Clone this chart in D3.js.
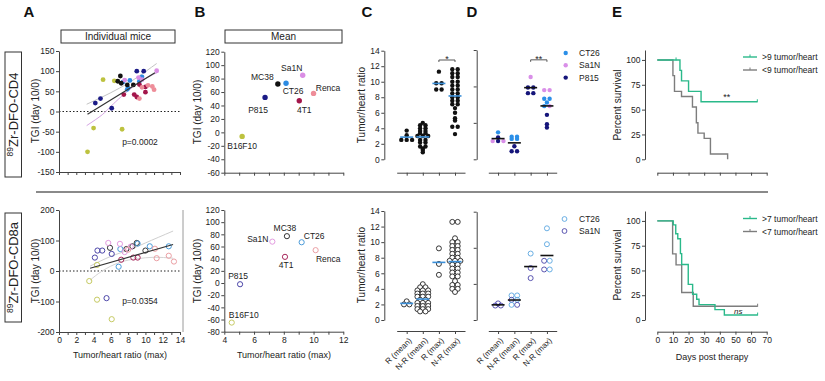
<!DOCTYPE html>
<html>
<head>
<meta charset="utf-8">
<script src="https://cdnjs.cloudflare.com/ajax/libs/d3/7.8.5/d3.min.js"></script>
<style>
  body { margin: 0; background: #fff; }
  svg { font-family: "Liberation Sans", Arial, Helvetica, sans-serif; }
</style>
</head>
<body>
<div id="fig"></div>
<script>
// ---------- data ----------
const models = ["B16F10", "P815", "MC38", "CT26", "Sa1N", "4T1", "Renca"];

// panel A, individual mice: [model, tumor/heart ratio (max), TGI]
const cd4Mice = [
  ["B16F10",3.3,-100],["B16F10",4.0,-41],["B16F10",5.1,79],["B16F10",6.4,76],["B16F10",7.3,-44],
  ["P815",4.2,21],["P815",4.8,32],["P815",6.1,8],["P815",9.0,100],["P815",9.8,100],
  ["CT26",7.4,73],["CT26",8.2,77],["CT26",7.9,55],["CT26",8.0,58],["CT26",9.6,86],["CT26",9.3,75],
  ["Sa1N",7.6,78],["Sa1N",11.3,101],["Sa1N",9.2,84],["Sa1N",9.6,79],
  ["4T1",7.5,42],["4T1",8.7,42],["4T1",9.0,36],["4T1",10.0,61],["4T1",10.0,48],["4T1",9.3,67],
  ["Renca",10.8,62],["Renca",11.0,54],["Renca",10.3,65],["Renca",9.3,32],["Renca",9.6,60],
  ["MC38",7.1,88],["MC38",6.8,75],["MC38",7.2,70],["MC38",7.9,66],["MC38",8.6,66]
];
const cd8Mice = [
  ["B16F10",3.5,-33],["B16F10",4.4,-94],["B16F10",4.4,20],["B16F10",6.1,-158],
  ["P815",5.5,-89],["P815",4.15,44],["P815",4.45,67],["P815",5.0,67],["P815",6.1,56],
  ["MC38",5.9,76],["MC38",7.8,72],["MC38",8.5,81],["MC38",9.0,92],["MC38",10.0,67],
  ["CT26",6.9,14],["CT26",7.1,72],["CT26",9.1,90],["CT26",10.5,81],["CT26",12.7,81],
  ["Sa1N",5.7,92],["Sa1N",7.05,89],["Sa1N",8.3,80],["Sa1N",7.6,62],
  ["4T1",7.2,37],["4T1",8.6,44],["4T1",9.1,44],
  ["Renca",11.3,42],["Renca",12.7,50],["Renca",13.3,31],["Renca",11.1,73],["Renca",8.0,70]
];
// fitted line and the two band curves: [ratio, TGI]
const cd4Fit = [[3.3,-7],[11.1,96]];
const cd4BandUpper = [[3.2,18],[5,36],[7,58],[9,84],[11.3,119]];
const cd4BandLower = [[3.2,-35],[5,-8],[6.3,19],[9,68],[11.5,98]];
const cd8Fit = [[3.6,9],[13.2,87]];
const cd8BandUpper = [[3.6,16],[6,48],[8,68],[10,92],[13.2,131]];
const cd8BandLower = [[3.6,-30],[5,0],[7,28],[9,40],[11,45],[13.2,42]];
const cd4P = "p=0.0002";
const cd8P = "p=0.0354";

// panel B, means: [model, ratio, TGI]
const cd4Means = [["B16F10",5.2,-6],["P815",6.74,52],["MC38",7.6,72],["CT26",8.15,73],
                  ["Sa1N",9.27,85],["4T1",9.04,47],["Renca",10.0,58]];
const cd8Means = [["B16F10",4.5,-65],["P815",5.06,-2],["Sa1N",7.23,68],["MC38",8.21,77],
                  ["CT26",9.2,67],["4T1",8.08,43],["Renca",10.14,54]];

// panels C and D
const ratioGroups = ["R (mean)", "N-R (mean)", "R (max)", "N-R (max)"];
const cd4Ratios = [
  [3.7, 3.1, 2.5, 2.5, 2.5],
  [4.7, 4.4,4.4, 4.0,4.0, 3.65,3.65, 3.35,3.35, 3.0,3.0,3.0, 2.5,2.5, 2.15,2.15, 1.65,1.65, 1.4, 1.2, 0.9],
  [11.3, 9.8, 9.8, 9.0, 9.0],
  [11.6,11.6, 11.1,11.1, 10.6,10.6, 10.0,10.0, 9.5,9.5, 9.0,9.0, 8.5,8.5, 8.0,8.0, 7.55,7.55,
   7.1,7.1, 6.6, 6.0, 5.3, 5.0, 4.2,4.2, 3.25]
];
const cd8Ratios = [
  [2.4, 2.0, 2.0],
  [4.6, 4.2,4.2, 3.8,3.8,3.8, 3.4,3.4,3.4, 3.0,3.0,3.0, 2.6,2.6, 2.2,2.2,2.2, 1.8,1.8,1.8, 1.4,1.4,1.4, 1.1,1.1],
  [9.2, 7.2, 5.8],
  [12.6,12.6, 10.5, 10.0,10.0, 9.5,9.5, 9.0,9.0, 8.5,8.5, 8.0,8.0, 7.6,7.6,7.6, 7.1,7.1, 6.6,6.6,
   6.1,6.1, 5.6,5.6, 5.0, 4.5,4.5, 4.0,4.0, 3.6]
];
// [group index, model, ratio]
const cd4ByModel = [
  [0,"CT26",3.7],[0,"P815",3.0],[0,"Sa1N",2.5],[0,"P815",2.5],[0,"Sa1N",2.5],
  [1,"CT26",3.1],[1,"CT26",3.1],[1,"CT26",2.8],[1,"CT26",2.8],[1,"P815",1.8],[1,"P815",1.1],[1,"P815",1.1],
  [2,"Sa1N",11.3],[2,"P815",9.85],[2,"P815",9.85],[2,"P815",9.08],[2,"P815",9.08],
  [3,"Sa1N",9.5],[3,"Sa1N",9.5],[3,"CT26",8.3],[3,"CT26",8.3],[3,"CT26",7.8],[3,"CT26",7.3],
  [3,"Sa1N",7.3],[3,"P815",6.1],[3,"P815",4.8],[3,"P815",4.35]
];
const cd8ByModel = [
  [0,"Sa1N",2.3],[0,"Sa1N",2.0],[0,"Sa1N",2.0],
  [1,"CT26",3.4],[1,"CT26",3.4],[1,"Sa1N",2.8],[1,"CT26",2.8],[1,"CT26",2.1],[1,"Sa1N",2.1],
  [2,"CT26",9.2],[2,"Sa1N",7.2],[2,"Sa1N",5.8],
  [3,"CT26",12.7],[3,"CT26",10.5],[3,"Sa1N",8.2],[3,"CT26",8.2],[3,"Sa1N",7.0],[3,"CT26",7.0]
];
const dModelsTop = ["CT26", "Sa1N", "P815"];
const dModelsBottom = ["CT26", "Sa1N"];

// panel E, Kaplan-Meier steps: days and percent survival
const cd4HighDays = [0, 14.5, 15.5, 20, 28, 64];
const cd4HighSurv = [100, 89.5, 78.9, 68.4, 57.9, 57.9];
const cd4HighCensor = [12, 64];
const cd4LowDays = [0, 10, 11, 15.5, 22.5, 25, 26, 30, 34, 45];
const cd4LowSurv = [100, 84.2, 68.4, 63.2, 52.6, 36.8, 26.3, 21.1, 5.3, 0];
const cd8HighDays = [0, 10.2, 11.8, 13.1, 14.8, 15.6, 19.8, 22.6, 25.2, 26.7, 36.9, 42.9, 64.2];
const cd8HighSurv = [100, 96, 87, 82, 67, 56, 36, 26, 21, 15.5, 10.5, 5, 5];
const cd8LowDays = [0, 9.8, 12, 15.6, 23, 64.2];
const cd8LowSurv = [100, 66.7, 55.6, 27.8, 13.9, 13.9];
const survivalLegendTop = [">9 tumor/heart", "<9 tumor/heart"];
const survivalLegendBottom = [">7 tumor/heart", "<7 tumor/heart"];

// ---------- styles ----------
const filledColor = d3.scaleOrdinal().domain(models)
  .range(["#bdc23f", "#1b1b86", "#111111", "#2d8be2", "#da8ee4", "#a3164b", "#ee8d99"]);
const openColor = d3.scaleOrdinal().domain(models)
  .range(["#c6ca63", "#4b45a8", "#333333", "#4a9bd9", "#e39ce0", "#a8285c", "#eb9fa4"]);
const dTopColor = d3.scaleOrdinal().domain(dModelsTop).range(["#2b8fe8", "#d98fe8", "#15157a"]);
const dBottomColor = d3.scaleOrdinal().domain(dModelsBottom).range(["#5aa6e0", "#4a44a8"]);
const green = "#2ab98a", grey = "#7d7d7d", axisCol = "#444";

const svg = d3.select("#fig").append("svg").attr("width", 825).attr("height", 381);
svg.append("rect").attr("width", 825).attr("height", 381).attr("fill", "#fff");

function styleAxis(g, fs) {
  g.attr("font-family", null).attr("font-size", null);
  g.select(".domain").attr("stroke", axisCol);
  g.selectAll(".tick line").attr("stroke", axisCol);
  g.selectAll(".tick text").attr("fill", "#222").style("font-size", (fs || 8.5) + "px");
}
function yAxis(x, scale, ticks, labels) {
  const ax = d3.axisLeft(scale).tickValues(ticks).tickSize(3).tickSizeOuter(0).tickPadding(1.5)
    .tickFormat(labels ? d => String(d) : "");
  const g = svg.append("g").attr("transform", `translate(${x},0)`).call(ax);
  styleAxis(g);
  return g;
}
function xAxis(y, scale, ticks, fmt) {
  const ax = d3.axisBottom(scale).tickSize(3).tickSizeOuter(0).tickPadding(2).tickFormat(fmt || "");
  if (ticks) ax.tickValues(ticks);
  const g = svg.append("g").attr("transform", `translate(0,${y})`).call(ax);
  styleAxis(g);
  return g;
}
function text(x, y, s, opt) {
  opt = opt || {};
  return svg.append("text").attr("x", x).attr("y", y).text(s)
    .attr("text-anchor", opt.anchor || "middle")
    .style("font-size", (opt.size || 9) + "px")
    .style("font-weight", opt.bold ? "bold" : null)
    .style("font-style", opt.italic ? "italic" : null)
    .attr("fill", opt.fill || "#222");
}
function yTitle(x, yMid, s) {
  svg.append("text").attr("transform", `translate(${x},${yMid}) rotate(-90)`)
    .attr("text-anchor", "middle").attr("dy", "0.35em")
    .style("font-size", "10px").attr("fill", "#222").text(s);
}

// panel letters
[["A", 29], ["B", 200], ["C", 367], ["D", 472], ["E", 617]].forEach(([l, x]) =>
  text(x, 17, l, { size: 15, bold: true, fill: "#111" }));

// row labels
function rowLabel(yTop, yBot, name) {
  svg.append("rect").attr("x", 5).attr("y", yTop).attr("width", 16.5).attr("height", yBot - yTop)
    .attr("fill", "#fff").attr("stroke", "#333").attr("stroke-width", 1);
  const t = svg.append("text")
    .attr("transform", `translate(${13.3 + 5},${(yTop + yBot) / 2}) rotate(-90)`)
    .attr("text-anchor", "middle").style("font-size", "13px").attr("fill", "#222");
  t.append("tspan").text("89").style("font-size", "8.5px").attr("dy", -5);
  t.append("tspan").text(name).attr("dy", 5);
}
rowLabel(52, 177, "Zr-DFO-CD4");
rowLabel(213, 322, "Zr-DFO-CD8a");

// separator between rows
svg.append("line").attr("x1", 36).attr("x2", 768).attr("y1", 192).attr("y2", 192)
  .attr("stroke", "#8a8a8a").attr("stroke-width", 2);

// header boxes
function header(x0, x1, s) {
  svg.append("rect").attr("x", x0).attr("y", 30).attr("width", x1 - x0).attr("height", 13)
    .attr("fill", "#fff").attr("stroke", "#333");
  text((x0 + x1) / 2, 40, s, { size: 10 });
}
header(61, 175, "Individual mice");
header(225, 342, "Mean");

// ---------- panel A ----------
const xA = d3.scaleLinear().domain([0, 14]).range([59, 180]);
const yA4 = d3.scaleLinear().domain([-150, 150]).range([172, 51]);
const yA8 = d3.scaleLinear().domain([-200, 200]).range([332, 210]);
const aTicks = d3.range(0, 15);

function panelA(mice, yS, fit, up, lo, bandCols, pText, pY, open) {
  const line = d3.line().x(d => xA(d[0])).y(d => yS(d[1])).curve(d3.curveNatural);
  svg.append("line").attr("x1", xA(0)).attr("x2", xA(14)).attr("y1", yS(0)).attr("y2", yS(0))
    .attr("stroke", "#222").attr("stroke-dasharray", "1.5,2");
  svg.append("path").attr("d", line(up)).attr("fill", "none").attr("stroke", bandCols[0]).attr("stroke-width", 1);
  svg.append("path").attr("d", line(lo)).attr("fill", "none").attr("stroke", bandCols[1]).attr("stroke-width", 1);
  svg.selectAll(null).data(mice).join("circle")
    .attr("cx", d => xA(d[1])).attr("cy", d => yS(d[2]))
    .attr("r", open ? 2.6 : 2.4)
    .attr("fill", d => open ? "none" : filledColor(d[0]))
    .attr("stroke", d => open ? openColor(d[0]) : "none").attr("stroke-width", 1);
  svg.append("path").attr("d", d3.line().x(d => xA(d[0])).y(d => yS(d[1]))(fit))
    .attr("stroke", "#333").attr("stroke-width", 1.2).attr("fill", "none");
  text(140, pY, pText, { size: 8.5 });
}
panelA(cd4Mice, yA4, cd4Fit, cd4BandUpper, cd4BandLower, ["#c4c4c4", "#d6a6e4"], cd4P, 145, false);
panelA(cd8Mice, yA8, cd8Fit, cd8BandUpper, cd8BandLower, ["#cfcfcf", "#d4d4d4"], cd8P, 304, true);
yAxis(59, yA4, [-150, -100, -50, 0, 50, 100, 150], true);
yAxis(59, yA8, [-200, -100, 0, 100, 200], true);
xAxis(172, xA, aTicks, "");
xAxis(332, xA, aTicks, d => d % 2 === 0 ? String(d) : "");
svg.append("line").attr("x1", 183).attr("x2", 183).attr("y1", 210).attr("y2", 332)
  .attr("stroke", "#9a9a9a");
yTitle(35, 111, "TGI (day 10/0)");
yTitle(35, 271, "TGI (day 10/0)");
text(120, 358, "Tumor/heart ratio (max)");

// ---------- panel B ----------
const xB = d3.scaleLinear().domain([4, 12]).range([224.3, 343.3]);
const yB4 = d3.scaleLinear().domain([-60, 120]).range([172.7, 51.7]);
const yB8 = d3.scaleLinear().domain([-80, 120]).range([331.7, 210]);
const bLabelTop = { "B16F10": [0, 9.5], "P815": [-7, 12.5], "MC38": [-15.5, -7], "CT26": [7, 7.5],
                    "Sa1N": [-11, -7.5], "4T1": [5, 9.5], "Renca": [14.5, -5.5] };
const bLabelBottom = { "B16F10": [12, -7.5], "P815": [-2, -8.5], "MC38": [-2, -8.5], "CT26": [12.5, -6.5],
                       "Sa1N": [-14.5, -2.5], "4T1": [1.2, 8.5], "Renca": [12.6, 8.7] };
function panelB(means, yS, offs, open) {
  svg.selectAll(null).data(means).join("circle")
    .attr("cx", d => xB(d[1])).attr("cy", d => yS(d[2])).attr("r", open ? 2.6 : 2.7)
    .attr("fill", d => open ? "none" : filledColor(d[0]))
    .attr("stroke", d => open ? openColor(d[0]) : "none").attr("stroke-width", 1);
  svg.selectAll(null).data(means).join("text")
    .attr("x", d => xB(d[1]) + offs[d[0]][0]).attr("y", d => yS(d[2]) + offs[d[0]][1])
    .attr("dy", "0.35em").attr("text-anchor", "middle").style("font-size", "8.5px")
    .attr("fill", "#222").text(d => d[0]);
}
panelB(cd4Means, yB4, bLabelTop, false);
panelB(cd8Means, yB8, bLabelBottom, true);
yAxis(224.3, yB4, d3.range(-60, 121, 20), true);
yAxis(224.3, yB8, d3.range(-80, 121, 20), true);
xAxis(172.7, xB, d3.range(4, 13), "");
xAxis(331.7, xB, d3.range(4, 13), d => d % 2 === 0 ? String(d) : "");
yTitle(197, 112, "TGI (day 10/0)");
yTitle(197, 271, "TGI (day 10/0)");
text(284, 358, "Tumor/heart ratio (max)");

// ---------- swarm helper ----------
function rows(items, yS, cx, step) {
  const pts = items.map(d => Object.assign({}, d, { y: yS(d.val) })).sort((a, b) => a.y - b.y);
  const out = [];
  let row = [];
  const flush = () => {
    row.forEach((p, i) => { p.x = cx + (i - (row.length - 1) / 2) * step; out.push(p); });
    row = [];
  };
  pts.forEach(p => {
    if (row.length && Math.abs(p.y - row[0].y) > 1.5) flush();
    row.push(p);
  });
  flush();
  return out;
}
function meanBar(cx, yv, yS, col) {
  svg.append("line").attr("x1", cx - 6.5).attr("x2", cx + 6.5).attr("y1", yS(yv)).attr("y2", yS(yv))
    .attr("stroke", col).attr("stroke-width", 1.6);
}
function bracket(x0, x1, y, label) {
  svg.append("path").attr("d", `M${x0},${y + 2}V${y}H${x1}V${y + 2}`)
    .attr("fill", "none").attr("stroke", "#444").attr("stroke-width", 0.9);
  text((x0 + x1) / 2, y + 2, label, { size: 9 });
}
function rotatedLabels(g) {
  g.selectAll(".tick text").attr("x", 0).attr("y", 0).attr("dy", "0.35em")
    .attr("text-anchor", "end").attr("transform", "translate(3,8) rotate(-45)")
    .style("font-size", "8px");
}

// ---------- panel C ----------
const xC = d3.scalePoint().domain(ratioGroups).range([396.7, 465]).padding(0.62);
const yC4 = d3.scaleLinear().domain([0, 14]).range([159.3, 50.7]);
const yC8 = d3.scaleLinear().domain([0, 14]).range([320, 211]);
function panelC(groups, yS, open) {
  groups.forEach((vals, gi) => {
    const cx = xC(ratioGroups[gi]);
    const pts = rows(vals.map(v => ({ val: v })), yS, cx, open ? 5.4 : 5.4);
    svg.selectAll(null).data(pts).join("circle")
      .attr("cx", d => d.x).attr("cy", d => d.y).attr("r", open ? 2.5 : 2.2)
      .attr("fill", open ? "#fff" : "#111").attr("stroke", open ? "#222" : "none").attr("stroke-width", 0.9);
    meanBar(cx, d3.mean(vals), yS, "#3b8fd8");
  });
}
panelC(cd4Ratios, yC4, false);
panelC(cd8Ratios, yC8, true);
yAxis(384.3, yC4, d3.range(0, 15, 2), true);
yAxis(384.3, yC8, d3.range(0, 15, 2), true);
xAxis(172.7, xC, null, "");
rotatedLabels(xAxis(331, xC, null, d => d));
yTitle(361, 105, "Tumor/heart ratio");
yTitle(361, 265, "Tumor/heart ratio");
bracket(xC("R (max)"), xC("N-R (max)"), yC4(12.8), "*");

// ---------- panel D ----------
const xD = d3.scalePoint().domain(ratioGroups).range([488.3, 556.7]).padding(0.6);
const yD4 = d3.scaleLinear().domain([0, 15]).range([159.3, 50]);
const yD8 = d3.scaleLinear().domain([0, 15]).range([320, 211.7]);
function panelD(items, yS, col, open) {
  ratioGroups.forEach((gname, gi) => {
    const cx = xD(gname);
    const sel = items.filter(d => d[0] === gi).map(d => ({ model: d[1], val: d[2] }));
    const pts = rows(sel, yS, cx, open ? 5.6 : 5.4);
    svg.selectAll(null).data(pts).join("circle")
      .attr("cx", d => d.x).attr("cy", d => d.y).attr("r", open ? 2.5 : 2.2)
      .attr("fill", d => open ? "none" : col(d.model))
      .attr("stroke", d => open ? col(d.model) : "none").attr("stroke-width", 0.9);
    meanBar(cx, d3.mean(sel, d => d.val), yS, "#111");
  });
}
panelD(cd4ByModel, yD4, dTopColor, false);
panelD(cd8ByModel, yD8, dBottomColor, true);
yAxis(476.7, yD4, [0, 5, 10, 15], false);
yAxis(476.7, yD8, [0, 5, 10, 15], false);
xAxis(172.7, xD, null, "");
rotatedLabels(xAxis(331, xD, null, d => d));
bracket(xD("R (max)"), xD("N-R (max)"), yD4(13.65), "**");

// D legends
dModelsTop.forEach((m, i) => {
  svg.append("circle").attr("cx", 565.7).attr("cy", 53 + i * 12.3).attr("r", 2.2).attr("fill", dTopColor(m));
  text(579, 56 + i * 12.3, m, { size: 8.5, anchor: "start" });
});
dModelsBottom.forEach((m, i) => {
  svg.append("circle").attr("cx", 564.5).attr("cy", 219 + i * 12).attr("r", 2.4)
    .attr("fill", "none").attr("stroke", dBottomColor(m)).attr("stroke-width", 0.9);
  text(579, 222 + i * 12, m, { size: 8.5, anchor: "start" });
});

// ---------- panel E ----------
const xE = d3.scaleLinear().domain([0, 70]).range([657.3, 766.7]);
const yE4 = d3.scaleLinear().domain([0, 110]).range([159.3, 50]);
const yE8 = d3.scaleLinear().domain([0, 110]).range([320, 211]);
function km(days, surv, yS, col, censor) {
  const pts = days.map((d, i) => [d, surv[i]]);
  svg.append("path").attr("d", d3.line().x(d => xE(d[0])).y(d => yS(d[1])).curve(d3.curveStepAfter)(pts))
    .attr("fill", "none").attr("stroke", col).attr("stroke-width", 1.4);
  (censor || []).forEach(c => {
    const i = d3.bisectRight(days, c) - 1;
    const yy = yS(surv[Math.max(0, i)]);
    svg.append("line").attr("x1", xE(c)).attr("x2", xE(c)).attr("y1", yy - 2.5).attr("y2", yy + 0.5)
      .attr("stroke", col).attr("stroke-width", 1);
  });
}
km(cd4LowDays, cd4LowSurv, yE4, grey, []);
km(cd4HighDays, cd4HighSurv, yE4, green, cd4HighCensor);
km(cd8LowDays, cd8LowSurv, yE8, grey, [64.2]);
km(cd8HighDays, cd8HighSurv, yE8, green, [64.2]);
yAxis(645, yE4, [0, 25, 50, 75, 100], true);
yAxis(645, yE8, [0, 25, 50, 75, 100], true);
xAxis(172.7, xE, d3.range(0, 71, 10), "");
xAxis(331.7, xE, d3.range(0, 71, 10), d => String(d));
yTitle(617, 105, "Percent survival");
yTitle(617, 265, "Percent survival");
text(712, 360, "Days post therapy");
text(xE(44.5), yE4(57.9) - 1.5, "**", { size: 9 });
text(xE(51.8), yE8(6.5), "ns", { size: 8, italic: true });

function survLegend(y0, labels) {
  [green, grey].forEach((c, i) => {
    const y = y0 + i * 13;
    svg.append("line").attr("x1", 743).attr("x2", 757).attr("y1", y).attr("y2", y)
      .attr("stroke", c).attr("stroke-width", 1.4);
    svg.append("line").attr("x1", 750).attr("x2", 750).attr("y1", y - 2.5).attr("y2", y)
      .attr("stroke", c).attr("stroke-width", 1);
    text(762, y + 3, labels[i], { size: 8.5, anchor: "start" });
  });
}
survLegend(57, survivalLegendTop);
survLegend(218.5, survivalLegendBottom);
</script>
</body>
</html>
